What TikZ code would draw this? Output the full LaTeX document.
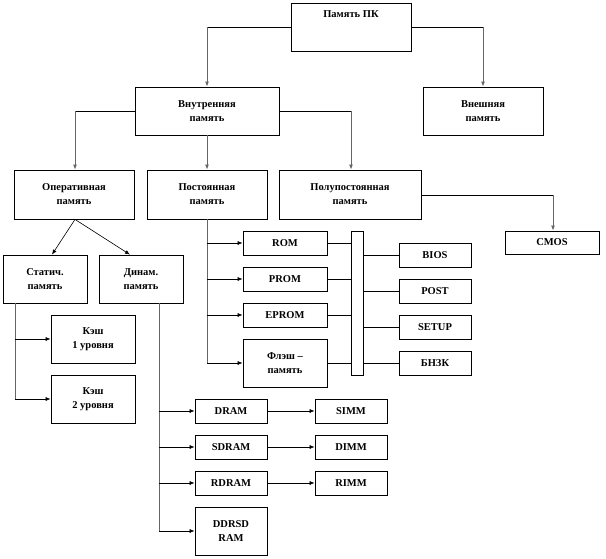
\documentclass[tikz,border=0pt]{standalone}
\usepackage{fontspec}
\setmainfont{Liberation Serif}
\usetikzlibrary{arrows.meta}
\begin{document}
\begin{tikzpicture}[x=1pt,y=-1pt,
  bx/.style={draw,line width=0.8pt,fill=white,align=center,font=\bfseries\fontsize{10.5}{14}\selectfont,inner sep=0pt},
  ln/.style={line width=0.6pt},
  vl/.style={line width=0.9pt,black!60},
  ar/.style={-{Latex[length=5pt,width=4pt]}}]
\useasboundingbox (0,0) rectangle (606,558);
\newcommand\bb[6]{\node[bx,minimum width=#4-#2,minimum height=#5-#3] (#1) at ({(#2+#4)/2},{(#3+#5)/2}) {#6};}
\bb{pk}{291}{3}{411}{51}{Память ПК\\[12pt]}
\bb{vn}{135}{87}{279}{135}{Внутренняя\\память}
\bb{ve}{423}{87}{543}{135}{Внешняя\\память}
\bb{op}{14}{170}{134}{219}{Оперативная\\память}
\bb{po}{147}{170}{267}{219}{Постоянная\\память}
\bb{pp}{279}{170}{421}{219}{Полупостоянная\\память}
\bb{cm}{505}{231}{599}{254}{CMOS}
\bb{st}{3}{255}{87}{303}{Статич.\\память}
\bb{di}{99}{255}{183}{303}{Динам.\\память}
\bb{k1}{51}{315}{135}{363}{Кэш\\1 уровня}
\bb{k2}{51}{375}{135}{423}{Кэш\\2 уровня}
\bb{rom}{243}{231}{327}{255}{ROM}
\bb{prom}{243}{267}{327}{291}{PROM}
\bb{eprom}{243}{303}{327}{327}{EPROM}
\bb{fl}{243}{339}{327}{387}{Флэш –\\память}
\bb{bar}{351}{231}{363}{375}{}
\bb{bios}{399}{243}{471}{267}{BIOS}
\bb{post}{399}{279}{471}{303}{POST}
\bb{setup}{399}{315}{471}{339}{SETUP}
\bb{bnzk}{399}{351}{471}{375}{БНЗК}
\bb{dram}{195}{399}{267}{423}{DRAM}
\bb{sdram}{195}{435}{267}{459}{SDRAM}
\bb{rdram}{195}{471}{267}{495}{RDRAM}
\bb{ddr}{195}{507}{267}{555}{DDRSD\\RAM}
\bb{simm}{315}{399}{387}{423}{SIMM}
\bb{dimm}{315}{435}{387}{459}{DIMM}
\bb{rimm}{315}{471}{387}{495}{RIMM}
% top level
\draw[ln] (pk.west|-0,27) -- (207,27) coordinate (c1);
\draw[vl,ar] (c1) -- (vn.north);
\draw[ln] (pk.east|-0,27) -- (483,27) coordinate (c2);
\draw[vl,ar] (c2) -- (ve.north);
\draw[ln] (vn.west|-0,111) -- (75,111) coordinate (c3);
\draw[vl,ar] (c3) -- (op.north-|75,0);
\draw[vl,ar] (vn.south) -- (po.north);
\draw[ln] (vn.east|-0,111) -- (351,111) coordinate (c4);
\draw[vl,ar] (c4) -- (pp.north-|351,0);
\draw[ln] (pp.east|-0,195) -- (553,195) coordinate (c5);
\draw[vl,ar] (c5) -- (cm.north-|553,0);
% operative
\draw[ln,ar] (op.south-|75,0) -- (st.north-|52,0);
\draw[ln,ar] (op.south-|75,0) -- (di.north-|130,0);
% static
\draw[vl] (st.south-|15,0) -- (15,399);
\draw[ln,ar] (15,339) -- (k1.west);
\draw[ln,ar] (15,399) -- (k2.west);
% dynamic
\draw[vl] (di.south-|159,0) -- (159,531);
\foreach \n in {dram,sdram,rdram,ddr}{\draw[ln,ar] (\n.west-|159,0) -- (\n.west);}
\draw[ln,ar] (dram) -- (simm);
\draw[ln,ar] (sdram) -- (dimm);
\draw[ln,ar] (rdram) -- (rimm);
% permanent
\draw[vl] (207,219) -- (207,363);
\foreach \n in {rom,prom,eprom,fl}{\draw[ln,ar] (\n.west-|207,0) -- (\n.west);}
\foreach \n in {rom,prom,eprom,fl}{\draw[ln] (\n.east) -- (\n.east-|bar.west);}
\foreach \n in {bios,post,setup,bnzk}{\draw[ln] (\n.west-|bar.east) -- (\n.west);}
\end{tikzpicture}
\end{document}
